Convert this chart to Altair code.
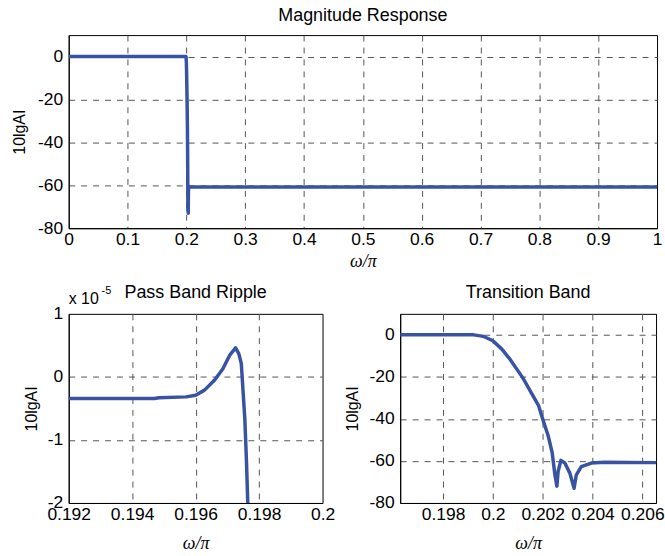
import altair as alt
import pandas as pd

BLUE = "#3953a4"
FONT = "Liberation Sans"
SERIF = "Liberation Serif"
LBL = "replace(format(datum.value, '~g'), '\u2212', '-')"

# ---------------- data ----------------
# Transition band (omega/pi, dB)
trans_w = [0.19628, 0.1980, 0.1990, 0.19923, 0.1995, 0.19963, 0.2000, 0.20036,
           0.2007, 0.20103, 0.20123, 0.20156, 0.20183, 0.2020, 0.20222, 0.20238,
           0.20249, 0.20257, 0.20262, 0.20273, 0.20289, 0.20309, 0.20326, 0.20335,
           0.20355, 0.20395, 0.20448, 0.2055, 0.20655]
trans_db = [0, 0, 0, 0, -0.5, -0.8, -2.8, -6.8,
            -11.8, -17.5, -21, -28, -33.5, -40, -48, -56,
            -66.6, -72, -65, -59.7, -61, -65.8, -73, -66.6,
            -62.7, -61, -60.6, -60.7, -60.8]

# Pass band ripple (omega/pi, dB x 1e-5)
ripple_w = [0.192, 0.1947, 0.19485, 0.1957, 0.1960, 0.19628, 0.1966, 0.19686,
            0.19707, 0.19726, 0.19736, 0.19744, 0.19755, 0.1976, 0.19765, 0.1977]
ripple_e5 = [-0.344, -0.344, -0.33, -0.317, -0.29, -0.21, -0.05, 0.13,
             0.34, 0.46, 0.37, 0.21, -0.66, -1.3, -2.1, -3.0]

# Full magnitude response
mag_w = [0.0] + trans_w + [1.0]
mag_db = [0.0] + trans_db + [-60.8]

# tick values
top_x_ticks = [0, 0.1, 0.2, 0.3, 0.4, 0.5, 0.6, 0.7, 0.8, 0.9, 1.0]
db_ticks = [-80, -60, -40, -20, 0]
rip_x_ticks = [0.192, 0.194, 0.196, 0.198, 0.2]
rip_y_ticks = [-2, -1, 0, 1]
tr_x_ticks = [0.198, 0.2, 0.202, 0.204, 0.206]

titles = ["Magnitude Response", "Pass Band Ripple", "Transition Band"]

LFS = 17.5  # tick label font size
TFS = 18    # title font size


def grid_op(test):
    return {"condition": {"test": test, "value": 0}, "value": 1}


def x_axis(vals, test, lpad, tpad):
    return alt.Axis(
        values=vals, title="ω/π", labelExpr=LBL,
        grid=True, gridDash=[6, 6], gridColor="#555555", gridWidth=1,
        gridOpacity=grid_op(test),
        ticks=False, tickSize=0, labelPadding=lpad,
        labelFont=FONT, labelFontSize=LFS, labelColor="black",
        labelOverlap=False, labelFlush=False,
        domainColor="black", domainWidth=1,
        titleFont=SERIF, titleFontStyle="italic", titleFontWeight="normal",
        titleFontSize=18, titleColor="black", titlePadding=tpad,
    )


def y_axis(vals, test, tx):
    return alt.Axis(
        values=vals, title="10lgAI", labelExpr=LBL,
        grid=True, gridDash=[6, 6], gridColor="#555555", gridWidth=1,
        gridOpacity=grid_op(test),
        ticks=False, tickSize=0, labelPadding=6,
        labelFont=FONT, labelFontSize=LFS, labelColor="black",
        labelOverlap=False, labelFlush=False,
        domainColor="black", domainWidth=1,
        titleFont=FONT, titleFontWeight="normal", titleFontSize=16,
        titleColor="black", titleX=tx, titleBaseline="alphabetic",
    )


def txt(text, x, y, size, align="center"):
    return alt.Chart(alt.Data(values=[{}])).mark_text(
        text=text, align=align, baseline="alphabetic", font=FONT,
        fontSize=size, color="black"
    ).encode(x=alt.value(x), y=alt.value(y))


line_kw = dict(color=BLUE, strokeWidth=3.5, strokeJoin="round", clip=True)

W_TOP, H_TOP = 591, 194
W_BL, W_BR, H_BOT = 255, 257, 190

top_df = pd.DataFrame({"w": mag_w, "db": mag_db})
top_line = alt.Chart(top_df).mark_line(**line_kw).encode(
    x=alt.X("w:Q", scale=alt.Scale(domain=[0, 1], nice=False, zero=False),
            axis=x_axis(top_x_ticks, "datum.value <= 0.0000001 || datum.value >= 0.9999999", 2, 5)),
    y=alt.Y("db:Q", scale=alt.Scale(domain=[-80, 10], nice=False, zero=False),
            axis=y_axis(db_ticks, "datum.value <= -79.999", -44)),
)
top = alt.layer(top_line, txt(titles[0], W_TOP / 2, -14, TFS)).properties(
    width=W_TOP, height=H_TOP)

rip_df = pd.DataFrame({"w": ripple_w, "v": ripple_e5})
bl_line = alt.Chart(rip_df).mark_line(**line_kw).encode(
    x=alt.X("w:Q", scale=alt.Scale(domain=[0.192, 0.2], nice=False, zero=False),
            axis=x_axis(rip_x_ticks, "datum.value <= 0.1920001 || datum.value >= 0.1999999", 3, 11)),
    y=alt.Y("v:Q", scale=alt.Scale(domain=[-2, 1], nice=False, zero=False),
            axis=y_axis(rip_y_ticks, "datum.value <= -1.9999 || datum.value >= 0.9999", -32)),
)
bl = alt.layer(
    bl_line,
    txt(titles[1], W_BL / 2, -16, TFS),
    txt("x 10", 0, -10, 16, "left"),
    txt("-5", 33, -20, 11, "left"),
).properties(width=W_BL, height=H_BOT)

tr_df = pd.DataFrame({"w": trans_w, "db": trans_db})
br_line = alt.Chart(tr_df).mark_line(**line_kw).encode(
    x=alt.X("w:Q", scale=alt.Scale(domain=[0.19628, 0.20655], nice=False, zero=False),
            axis=x_axis(tr_x_ticks, "false", 3, 11)),
    y=alt.Y("db:Q", scale=alt.Scale(domain=[-80, 10], nice=False, zero=False),
            axis=y_axis(db_ticks, "datum.value <= -79.999", -43)),
)
br = alt.layer(br_line, txt(titles[2], W_BR / 2, -16, TFS)).properties(
    width=W_BR, height=H_BOT)

bottom = alt.hconcat(bl, br, spacing=78, bounds="flush")
chart = alt.vconcat(top, bottom, spacing=86, bounds="flush").properties(
    padding={"left": 11, "top": 5, "right": 0, "bottom": 0},
    background="white",
).configure_view(stroke="black", strokeWidth=1)

chart.save("out.html", embed_options={"renderer": "svg", "actions": False})
